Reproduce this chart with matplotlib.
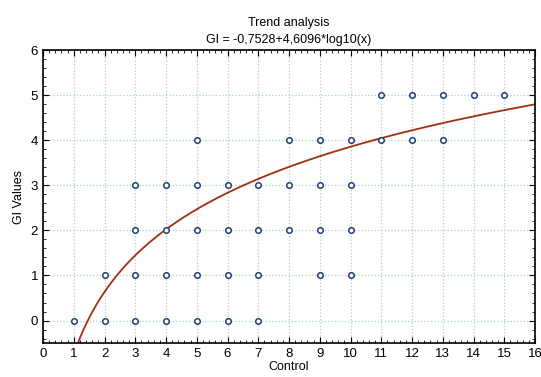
import numpy as np
import matplotlib.pyplot as plt
from matplotlib.ticker import MultipleLocator

plt.rcParams['font.family'] = ['Liberation Sans', 'DejaVu Sans']

# donnees
control = [1, 2, 2, 3, 3, 3, 3, 4, 4, 4, 4, 5, 5, 5, 5, 5, 6, 6, 6, 6, 7, 7, 7, 7,
           8, 8, 8, 9, 9, 9, 9, 10, 10, 10, 10, 11, 11, 12, 12, 13, 13, 14, 15]
gi = [0, 0, 1, 0, 1, 2, 3, 0, 1, 2, 3, 0, 1, 2, 3, 4, 0, 1, 2, 3, 0, 1, 2, 3,
      2, 3, 4, 1, 2, 3, 4, 1, 2, 3, 4, 4, 5, 4, 5, 4, 5, 5, 5]
a = -0.7528
b = 4.6096

xf = np.linspace(1.0, 16, 400)
yf = a + b * np.log10(xf)

fig = plt.figure(figsize=(5.41, 3.77), dpi=100)
ax = fig.add_axes([0.0795, 0.09, 0.9095, 0.777])

ax.grid(True, which='major', color='#a8d0c8', linestyle=':', linewidth=0.9)
ax.plot(xf, yf, color='#a03010', linewidth=1.3, zorder=2)
ax.scatter(control, gi, s=16, facecolors='white', edgecolors='#1f3f7a', linewidths=1.1, zorder=3)

ax.set_xlim(0, 16)
ax.set_ylim(-0.5, 6)
ax.xaxis.set_major_locator(MultipleLocator(1))
ax.xaxis.set_minor_locator(MultipleLocator(0.2))
ax.yaxis.set_major_locator(MultipleLocator(1))
ax.yaxis.set_minor_locator(MultipleLocator(0.2))
ax.tick_params(which='both', direction='in', top=True, right=True, labelsize=9.5)
ax.tick_params(which='major', length=4)
ax.tick_params(which='minor', length=2)
for s in ax.spines.values():
    s.set_linewidth(1.2)

ax.set_title('Trend analysis\nGI = -0,7528+4,6096*log10(x)', fontsize=9, linespacing=1.6, pad=5)
ax.set_xlabel('Control', fontsize=9, labelpad=1)
ax.set_ylabel('GI Values', fontsize=9)

plt.savefig('out.png', dpi=100)
